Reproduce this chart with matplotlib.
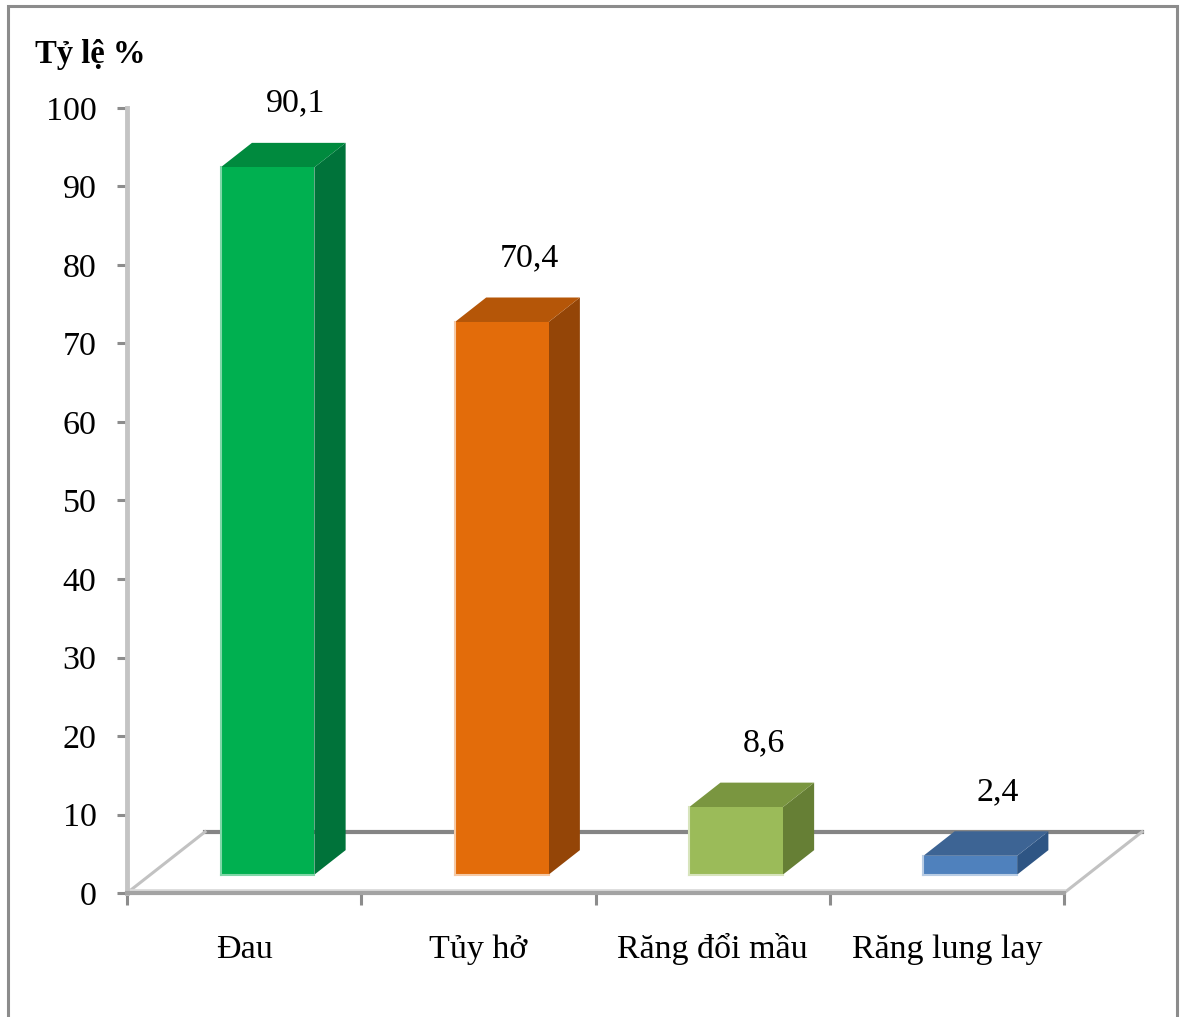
import matplotlib
matplotlib.use("Agg")
import matplotlib.pyplot as plt
from matplotlib.patches import Polygon, Rectangle
from matplotlib.lines import Line2D
import matplotlib.transforms as mtransforms

# Data
categories = ["Đau", "Tủy hở", "Răng đổi mầu", "Răng lung lay"]
values = [90.1, 70.4, 8.6, 2.4]
value_labels = ["90,1", "70,4", "8,6", "2,4"]
y_ticks = [0, 10, 20, 30, 40, 50, 60, 70, 80, 90, 100]

# Face colours: front, top, side
front_colors = ["#00B050", "#E36C0A", "#9BBB59", "#4F81BD"]
top_colors = ["#008A3E", "#B55608", "#7A9640", "#3D6494"]
side_colors = ["#00733A", "#944507", "#667F35", "#2E5584"]
edge_light = ["#7FD7A7", "#F5C9A5", "#D7E4BC", "#B8CCE4"]

plt.rcParams["font.family"] = ["Liberation Serif", "DejaVu Serif"]

W, H = 1184, 1017
fig = plt.figure(figsize=(W / 100, H / 100), dpi=100)
ax = fig.add_axes([127 / W, (H - 893) / H, (1064 - 127) / W, (893 - 108) / H])
ax.set_xlim(0, 4)
ax.set_ylim(0, 100)
ax.patch.set_visible(False)

# Floor depth (data units) and bar depth as fractions of floor depth
DX, DY = 1 / 3, 7.8
d_front, d_back = 0.3, 0.7
bar_w = 0.40

# Floor outline
ax.add_line(Line2D([DX, 4 + DX], [DY, DY], color="#858585", lw=3.0, zorder=1, clip_on=False))
ax.add_line(Line2D([0, DX], [0, DY], color="#C2C2C2", lw=2.2, zorder=1, clip_on=False))
ax.add_line(Line2D([4, 4 + DX], [0, DY], color="#C2C2C2", lw=2.2, zorder=1, clip_on=False))
lift = mtransforms.offset_copy(ax.transData, fig=fig, x=0, y=3, units="dots")
ax.add_line(Line2D([0, 4], [0, 0], color="#DADADA", lw=2.0, zorder=1, transform=lift, clip_on=False))

# 3D-looking bars
ddx, ddy = (d_back - d_front) * DX, (d_back - d_front) * DY
for i, v in enumerate(values):
    c = i + 0.5
    xl = c - bar_w / 2 + d_front * DX
    xr = xl + bar_w
    yb = d_front * DY
    yt = yb + v
    ax.add_patch(Polygon([(xr, yb), (xr + ddx, yb + ddy), (xr + ddx, yt + ddy), (xr, yt)],
                         closed=True, fc=side_colors[i], ec="none", zorder=3, clip_on=False))
    ax.add_patch(Polygon([(xl, yt), (xr, yt), (xr + ddx, yt + ddy), (xl + ddx, yt + ddy)],
                         closed=True, fc=top_colors[i], ec="none", zorder=3, clip_on=False))
    ax.add_patch(Rectangle((xl, yb), bar_w, v, fc=front_colors[i], ec="none", zorder=4, clip_on=False))
    ax.add_line(Line2D([xl, xl], [yb, yt], color=edge_light[i], lw=1.5, zorder=5, clip_on=False))
    ax.add_line(Line2D([xl, xr], [yb, yb], color=edge_light[i], lw=1.5, zorder=5, clip_on=False))
    ax.annotate(value_labels[i], xy=(xl + bar_w / 2, yt), xytext=(20, 46),
                textcoords="offset points", ha="center", va="center",
                fontsize=24.5, color="black", zorder=6, annotation_clip=False)

# Axes styling
for s in ["top", "right"]:
    ax.spines[s].set_visible(False)
ax.spines["left"].set_color("#C4C4C4")
ax.spines["left"].set_linewidth(3.5)
ax.spines["left"].set_zorder(2)
ax.spines["bottom"].set_color("#A3A3A3")
ax.spines["bottom"].set_linewidth(3.0)
ax.spines["bottom"].set_zorder(2)

ax.set_yticks(y_ticks)
ax.set_yticklabels([str(t) for t in y_ticks], fontsize=24.5)
ax.tick_params(axis="y", direction="out", length=7, width=2.2, color="#8C8C8C", pad=15)

ax.set_xticks([0, 1, 2, 3, 4])
ax.set_xticklabels([])
ax.tick_params(axis="x", direction="out", length=8.5, width=2.2, color="#8C8C8C")
for i, name in enumerate(categories):
    ax.annotate(name, xy=(i + 0.5, 0), xytext=(0, -46.5), textcoords="offset points",
                ha="center", va="baseline", fontsize=24.5, annotation_clip=False)

# Axis title
fig.text(35 / W, 1 - 63 / H, "Tỷ lệ %", fontsize=23.5, fontweight="bold",
         ha="left", va="baseline")

# Outer frame
fig.add_artist(Rectangle((8 / W, -0.05), (1177 - 8) / W, (H - 6) / H + 0.05,
                         transform=fig.transFigure, fill=False, ec="#8C8C8C", lw=2.2))

fig.savefig("out.png", dpi=100)
